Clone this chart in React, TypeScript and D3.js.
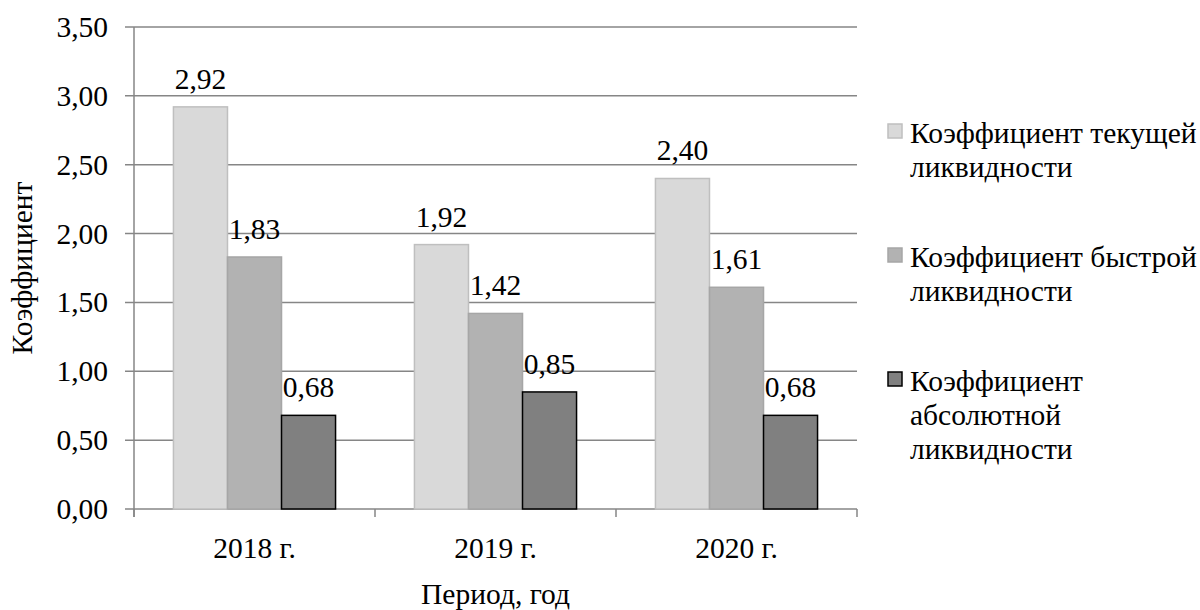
import React from "react";
import * as d3 from "d3";

const periods = ["2018 г.", "2019 г.", "2020 г."];
const seriesNames = [
  ["Коэффициент текущей", "ликвидности"],
  ["Коэффициент быстрой", "ликвидности"],
  ["Коэффициент", "абсолютной", "ликвидности"],
];
const currentRatio = [2.92, 1.92, 2.4];
const quickRatio = [1.83, 1.42, 1.61];
const absoluteRatio = [0.68, 0.85, 0.68];
const yTicks = [0, 0.5, 1, 1.5, 2, 2.5, 3, 3.5];

const fills = ["#d9d9d9", "#b2b2b2", "#808080"];
const strokes = ["#bfbfbf", "#a6a6a6", "#000000"];

const FONT = "Liberation Serif, Times New Roman, DejaVu Serif, serif";
const FS = 29.5;

const fmt = (v: number) => d3.format(".2f")(v).replace(".", ",");

const App: React.FC = () => {
  const width = 1200;
  const height = 610;
  const plot = { left: 134, right: 857, top: 27, bottom: 509 };

  const series = [currentRatio, quickRatio, absoluteRatio];

  const x0 = d3.scaleBand<string>()
    .domain(periods)
    .range([plot.left, plot.right])
    .padding(0);

  // bars take ~67% of each category band
  const x1 = d3.scaleBand<number>()
    .domain([0, 1, 2])
    .range([0, x0.bandwidth()])
    .paddingInner(0)
    .paddingOuter(0.73);

  const y = d3.scaleLinear().domain([0, 3.5]).range([plot.bottom, plot.top]);

  const gridColor = "#868686";
  const boundaries = [...periods.map((p) => x0(p) as number), plot.right];

  // legend rows
  let rowY = 133;
  const lineH = 34;
  const legendRows = seriesNames.map((lines, i) => {
    const top = rowY;
    rowY += lines.length * lineH + 56;
    return { lines, i, top };
  });

  return (
    <svg
      width={width}
      height={height}
      style={{ position: "absolute", left: 0, top: 0, background: "#fff", fontFamily: FONT, fontSize: FS }}
    >
      {/* gridlines */}
      {yTicks.map((t) => (
        <line
          key={"g" + t}
          x1={plot.left - 9}
          x2={plot.right}
          y1={y(t)}
          y2={y(t)}
          stroke={gridColor}
          strokeWidth={1.5}
        />
      ))}
      {/* y axis line */}
      <line x1={plot.left} x2={plot.left} y1={plot.top} y2={plot.bottom + 8} stroke={gridColor} strokeWidth={1.5} />
      {/* x axis ticks */}
      {boundaries.map((bx, i) => (
        <line key={"xt" + i} x1={bx} x2={bx} y1={plot.bottom} y2={plot.bottom + 8} stroke={gridColor} strokeWidth={1.5} />
      ))}

      {/* y tick labels */}
      {yTicks.map((t) => (
        <text
          key={"yl" + t}
          x={plot.left - 26}
          y={y(t)}
          textAnchor="end"
          dominantBaseline="central"
          fill="#000"
        >
          {fmt(t)}
        </text>
      ))}

      {/* bars */}
      {periods.map((p, ci) => (
        <g key={p} transform={`translate(${x0(p)},0)`}>
          {series.map((vals, si) => (
            <rect
              key={si}
              x={x1(si)}
              y={y(vals[ci])}
              width={x1.bandwidth()}
              height={y(0) - y(vals[ci])}
              fill={fills[si]}
              stroke={strokes[si]}
              strokeWidth={1.5}
            />
          ))}
          {series.map((vals, si) => (
            <text
              key={"v" + si}
              x={(x1(si) as number) + x1.bandwidth() / 2}
              y={y(vals[ci]) - 18}
              textAnchor="middle"
              fill="#000"
            >
              {fmt(vals[ci])}
            </text>
          ))}
        </g>
      ))}

      {/* x tick labels */}
      {periods.map((p) => (
        <text
          key={"xl" + p}
          x={(x0(p) as number) + x0.bandwidth() / 2}
          y={548}
          textAnchor="middle"
          dominantBaseline="central"
          fill="#000"
        >
          {p}
        </text>
      ))}

      {/* axis titles */}
      <text x={(plot.left + plot.right) / 2} y={604} textAnchor="middle" fill="#000">
        Период, год
      </text>
      <text
        transform={`translate(22,${(plot.top + plot.bottom) / 2}) rotate(-90)`}
        textAnchor="middle"
        dominantBaseline="central"
        fill="#000"
      >
        Коэффициент
      </text>

      {/* legend */}
      {legendRows.map(({ lines, i, top }) => (
        <g key={"lg" + i}>
          <rect x={888} y={top - 9} width={14} height={14} fill={fills[i]} stroke={strokes[i]} strokeWidth={1.5} />
          {lines.map((ln, li) => (
            <text key={li} x={910} y={top + li * lineH} dominantBaseline="central" fill="#000">
              {ln}
            </text>
          ))}
        </g>
      ))}
    </svg>
  );
};

export default App;
